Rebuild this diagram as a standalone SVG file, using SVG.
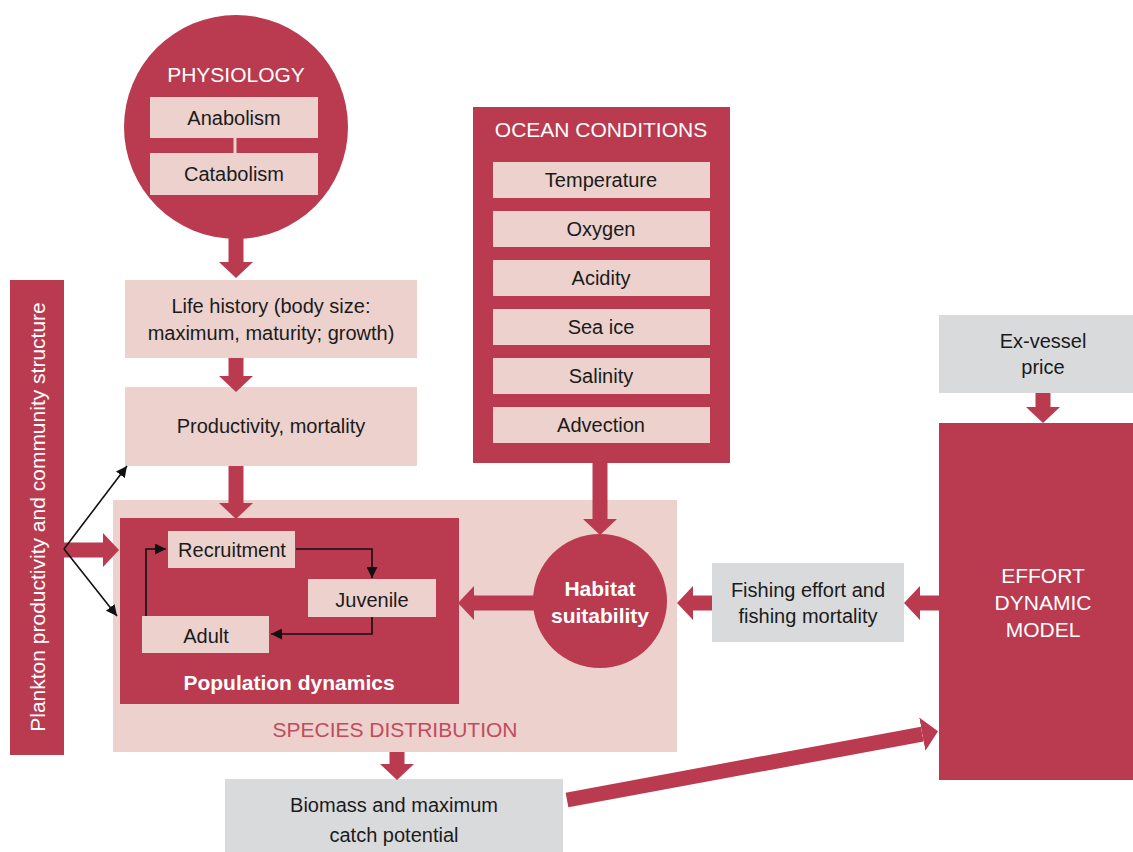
<svg xmlns="http://www.w3.org/2000/svg" width="1133" height="852" viewBox="0 0 1133 852">
  <style>
    .red { fill: #BA3A4F; }
    .pink { fill: #ECD1CD; }
    .grey { fill: #D9DADC; }
    .t { font-family: "Liberation Sans", Arial, sans-serif; font-size: 20px; fill: #1B1B1B; text-anchor: middle; }
    .hd { font-family: "Liberation Sans", Arial, sans-serif; font-size: 21px; fill: #FFFFFF; text-anchor: middle; }
    .bw { font-family: "Liberation Sans", Arial, sans-serif; font-size: 21px; font-weight: bold; fill: #FFFFFF; text-anchor: middle; }
    .fat { stroke: #BA3A4F; stroke-width: 15; fill: none; marker-end: url(#bigHead); }
    .thin { stroke: #111111; stroke-width: 1.6; fill: none; marker-end: url(#smallHead); }
  </style>
  <defs>
    <marker id="bigHead" viewBox="0 0 16 34" markerWidth="16" markerHeight="34" markerUnits="userSpaceOnUse" refX="0" refY="17" orient="auto">
      <path d="M0,0 L16,17 L0,34 z" fill="#BA3A4F"/>
    </marker>
    <marker id="smallHead" viewBox="0 0 11 11" markerWidth="11" markerHeight="11" markerUnits="userSpaceOnUse" refX="11" refY="5.5" orient="auto">
      <path d="M0,0 L11,5.5 L0,11 z" fill="#111111"/>
    </marker>
  </defs>

  <rect width="1133" height="852" fill="#FFFFFF"/>

  <!-- species distribution backdrop -->
  <g id="species-distribution">
    <rect class="pink" x="113" y="500" width="564" height="252"/>
    <text x="395" y="737" font-family="Liberation Sans, Arial, sans-serif" font-size="21" fill="#C24B5E" text-anchor="middle">SPECIES DISTRIBUTION</text>
  </g>

  <!-- physiology -->
  <g id="physiology">
    <circle class="red" cx="236" cy="127" r="112"/>
    <text class="hd" x="236" y="82">PHYSIOLOGY</text>
    <rect class="pink" x="150" y="97" width="168" height="41"/>
    <text class="t" x="234" y="125">Anabolism</text>
    <line x1="235" y1="138" x2="235" y2="153" stroke="#ECD1CD" stroke-width="3"/>
    <rect class="pink" x="150" y="153" width="168" height="42"/>
    <text class="t" x="234" y="181">Catabolism</text>
  </g>

  <g id="life-history">
    <rect class="pink" x="125" y="280" width="292" height="78"/>
    <text class="t" x="271" y="313">Life history (body size:</text>
    <text class="t" x="271" y="340">maximum, maturity; growth)</text>
  </g>

  <g id="productivity">
    <rect class="pink" x="125" y="387" width="292" height="79"/>
    <text class="t" x="271" y="433">Productivity, mortality</text>
  </g>

  <g id="plankton">
    <rect class="red" x="10" y="280" width="54" height="475"/>
    <text class="hd" transform="translate(45,517) rotate(-90)" x="0" y="0">Plankton productivity and community structure</text>
  </g>

  <g id="population-dynamics">
    <rect class="red" x="120" y="518" width="339" height="186"/>
    <text class="bw" x="289" y="690">Population dynamics</text>
  </g>
  <g id="recruitment">
    <rect class="pink" x="168" y="531" width="127" height="37"/>
    <text class="t" x="232" y="557">Recruitment</text>
  </g>
  <g id="juvenile">
    <rect class="pink" x="308" y="579" width="128" height="38"/>
    <text class="t" x="372" y="607">Juvenile</text>
  </g>
  <g id="adult">
    <rect class="pink" x="142" y="616" width="127" height="37"/>
    <text class="t" x="206" y="643">Adult</text>
  </g>

  <g id="ocean-conditions">
    <rect class="red" x="473" y="107" width="257" height="356"/>
    <text class="hd" x="601" y="137">OCEAN CONDITIONS</text>
    <rect class="pink" x="493" y="162" width="217" height="36"/>
    <text class="t" x="601" y="187">Temperature</text>
    <rect class="pink" x="493" y="211" width="217" height="36"/>
    <text class="t" x="601" y="236">Oxygen</text>
    <rect class="pink" x="493" y="260" width="217" height="36"/>
    <text class="t" x="601" y="285">Acidity</text>
    <rect class="pink" x="493" y="309" width="217" height="36"/>
    <text class="t" x="601" y="334">Sea ice</text>
    <rect class="pink" x="493" y="358" width="217" height="36"/>
    <text class="t" x="601" y="383">Salinity</text>
    <rect class="pink" x="493" y="407" width="217" height="36"/>
    <text class="t" x="601" y="432">Advection</text>
  </g>

  <g id="habitat-suitability">
    <circle class="red" cx="600" cy="601" r="67"/>
    <text class="bw" x="600" y="596">Habitat</text>
    <text class="bw" x="600" y="623">suitability</text>
  </g>

  <g id="fishing-effort">
    <rect class="grey" x="712" y="563" width="192" height="79"/>
    <text class="t" x="808" y="597">Fishing effort and</text>
    <text class="t" x="808" y="623">fishing mortality</text>
  </g>

  <g id="ex-vessel-price">
    <rect class="grey" x="939" y="315" width="194" height="78"/>
    <text class="t" x="1043" y="348">Ex-vessel</text>
    <text class="t" x="1043" y="374">price</text>
  </g>

  <g id="effort-dynamic-model">
    <rect class="red" x="939" y="423" width="194" height="357"/>
    <text class="hd" x="1043" y="583">EFFORT</text>
    <text class="hd" x="1043" y="610">DYNAMIC</text>
    <text class="hd" x="1043" y="637">MODEL</text>
  </g>

  <g id="biomass">
    <rect class="grey" x="225" y="779" width="338" height="73"/>
    <text class="t" x="394" y="812">Biomass and maximum</text>
    <text class="t" x="394" y="842">catch potential</text>
  </g>

  <!-- connectors -->
  <g id="connectors">
    <line class="fat" x1="236" y1="232" x2="236" y2="262"/>
    <line class="fat" x1="236" y1="358" x2="236" y2="376"/>
    <line class="fat" x1="236" y1="466" x2="236" y2="503"/>
    <line class="fat" x1="64" y1="550" x2="103" y2="550"/>
    <line class="fat" x1="600" y1="463" x2="600" y2="519"/>
    <line class="fat" x1="540" y1="603" x2="474" y2="603"/>
    <line class="fat" x1="712" y1="603" x2="693" y2="603"/>
    <line class="fat" x1="939" y1="603" x2="920" y2="603"/>
    <line class="fat" x1="1043" y1="393" x2="1043" y2="407"/>
    <line class="fat" x1="397" y1="752" x2="397" y2="764"/>
    <line class="fat" x1="567" y1="800" x2="922.3" y2="734.1"/>

    <line class="thin" x1="64" y1="549" x2="127" y2="466"/>
    <line class="thin" x1="64" y1="549" x2="117" y2="616"/>
    <path class="thin" d="M296,549 H372 V578"/>
    <path class="thin" d="M372,617 V634 H271"/>
    <path class="thin" d="M146,616 V549 H166"/>
  </g>
</svg>
